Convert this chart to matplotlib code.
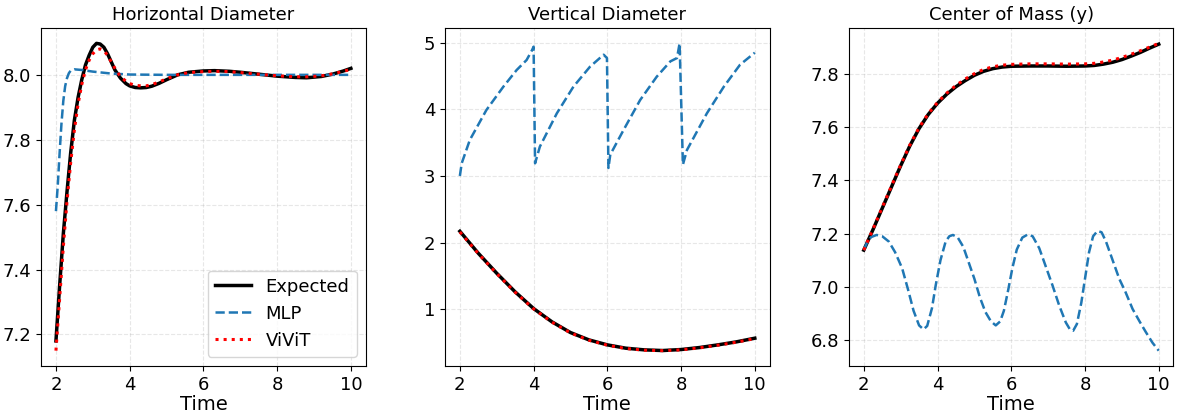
import matplotlib
matplotlib.use("Agg")
import matplotlib.pyplot as plt

# ---- Horizontal Diameter ----
hd_t_exp = [2.0, 2.1, 2.2, 2.3, 2.4, 2.5, 2.6, 2.7, 2.8, 2.9, 3.0, 3.1, 3.2, 3.3, 3.4, 3.5,
            3.6, 3.75, 3.9, 4.0, 4.15, 4.3, 4.45, 4.6, 4.8, 5.0, 5.3, 5.6, 6.0, 6.3, 6.7, 7.0,
            7.5, 8.0, 8.5, 8.8, 9.2, 9.5, 9.8, 10.0]
hd_expected = [7.18, 7.35, 7.51, 7.64, 7.76, 7.86, 7.93, 7.985, 8.03, 8.06, 8.085, 8.097, 8.095,
               8.085, 8.065, 8.04, 8.015, 7.99, 7.973, 7.966, 7.961, 7.96, 7.961, 7.965, 7.974,
               7.985, 8.0, 8.008, 8.012, 8.013, 8.011, 8.008, 8.002, 7.996, 7.992, 7.991,
               7.995, 8.002, 8.012, 8.02]
hd_vivit = [7.15, 7.31, 7.47, 7.61, 7.73, 7.83, 7.91, 7.97, 8.015, 8.045, 8.065, 8.077, 8.08,
            8.075, 8.06, 8.04, 8.02, 7.995, 7.98, 7.973, 7.968, 7.966, 7.966, 7.97, 7.978,
            7.988, 8.0, 8.007, 8.01, 8.011, 8.01, 8.007, 8.002, 7.997, 7.994, 7.994, 7.997,
            8.003, 8.011, 8.017]
hd_t_mlp = [2.0, 2.05, 2.1, 2.15, 2.2, 2.25, 2.3, 2.35, 2.4, 2.5, 2.7, 3.0, 3.5, 4.0, 5.0,
            6.0, 7.0, 8.0, 9.0, 10.0]
hd_mlp = [7.58, 7.66, 7.76, 7.85, 7.92, 7.965, 7.99, 8.005, 8.013, 8.017, 8.015, 8.01, 8.004,
          8.001, 8.0, 8.0, 8.0, 8.0, 8.0, 8.0]

# ---- Vertical Diameter ----
vd_t = [2.0, 2.5, 3.0, 3.5, 4.0, 4.5, 5.0, 5.5, 6.0, 6.5, 7.0, 7.5, 8.0, 8.5, 9.0, 9.5, 10.0]
vd_expected = [2.17, 1.84, 1.54, 1.26, 1.01, 0.81, 0.65, 0.54, 0.465, 0.415, 0.39, 0.38, 0.395,
               0.425, 0.465, 0.51, 0.565]
vd_vivit = [2.16, 1.835, 1.535, 1.255, 1.005, 0.805, 0.645, 0.535, 0.46, 0.41, 0.385, 0.378,
            0.39, 0.42, 0.46, 0.505, 0.56]
vd_t_mlp = [2.0, 2.05, 2.27, 2.72, 3.18, 3.54, 3.81, 3.95, 4.0, 4.04, 4.17, 4.63, 5.08, 5.53,
            5.9, 5.99, 6.03, 6.08, 6.44, 6.89, 7.34, 7.71, 7.89, 7.96, 8.05, 8.16, 8.7, 9.16,
            9.6, 10.0]
vd_mlp = [3.0, 3.19, 3.54, 3.99, 4.34, 4.59, 4.74, 4.88, 4.94, 3.19, 3.44, 3.94, 4.34, 4.64,
          4.82, 4.77, 3.12, 3.32, 3.69, 4.14, 4.49, 4.72, 4.77, 4.99, 3.17, 3.39, 3.94, 4.34,
          4.67, 4.85]

# ---- Center of Mass (y) ----
cm_t = [2.0, 2.25, 2.5, 2.75, 3.0, 3.25, 3.5, 3.75, 4.0, 4.25, 4.5, 4.75, 5.0, 5.25, 5.5,
        5.75, 6.0, 6.5, 7.0, 7.5, 8.0, 8.25, 8.5, 8.75, 9.0, 9.25, 9.5, 9.75, 10.0]
cm_expected = [7.138, 7.215, 7.295, 7.375, 7.455, 7.53, 7.595, 7.648, 7.69, 7.724, 7.752,
               7.775, 7.795, 7.81, 7.82, 7.826, 7.829, 7.83, 7.83, 7.829, 7.83, 7.832, 7.837,
               7.844, 7.854, 7.867, 7.881, 7.897, 7.912]
cm_vivit = [7.138, 7.217, 7.298, 7.378, 7.458, 7.533, 7.598, 7.651, 7.693, 7.728, 7.757,
            7.781, 7.801, 7.817, 7.827, 7.833, 7.836, 7.838, 7.838, 7.837, 7.838, 7.84, 7.845,
            7.852, 7.862, 7.874, 7.887, 7.901, 7.915]
cm_t_mlp = [2.0, 2.1, 2.2, 2.35, 2.5, 2.68, 2.85, 3.04, 3.2, 3.35, 3.5, 3.62, 3.72, 3.85, 3.95,
            4.08, 4.22, 4.32, 4.42, 4.55, 4.7, 4.85, 5.0, 5.15, 5.3, 5.45, 5.58, 5.7, 5.8,
            5.92, 6.03, 6.15, 6.3, 6.45, 6.58, 6.76, 6.94, 7.12, 7.3, 7.48, 7.6, 7.68, 7.78,
            7.9, 8.0, 8.11, 8.22, 8.34, 8.45, 8.57, 8.75, 8.93, 9.1, 9.29, 9.48, 9.65, 9.83,
            10.0]
cm_mlp = [7.138, 7.17, 7.187, 7.195, 7.19, 7.17, 7.13, 7.07, 6.99, 6.91, 6.855, 6.84, 6.853,
          6.92, 7.005, 7.10, 7.17, 7.19, 7.195, 7.185, 7.15, 7.09, 7.03, 6.96, 6.905, 6.87,
          6.855, 6.87, 6.91, 6.99, 7.07, 7.14, 7.185, 7.197, 7.19, 7.145, 7.075, 7.005, 6.93,
          6.866, 6.838, 6.835, 6.86, 6.94, 7.03, 7.13, 7.19, 7.21, 7.205, 7.17, 7.1, 7.03,
          6.98, 6.917, 6.87, 6.83, 6.79, 6.76]

panels = [
    ("Horizontal Diameter", hd_t_exp, hd_expected, hd_t_mlp, hd_mlp, hd_t_exp, hd_vivit),
    ("Vertical Diameter", vd_t, vd_expected, vd_t_mlp, vd_mlp, vd_t, vd_vivit),
    ("Center of Mass (y)", cm_t, cm_expected, cm_t_mlp, cm_mlp, cm_t, cm_vivit),
]

plt.rcParams["font.size"] = 13
fig, axes = plt.subplots(1, 3, figsize=(11.77, 4.15), dpi=100)
fig.subplots_adjust(left=0.035, right=0.997, bottom=0.118, top=0.9325, wspace=0.245)

for ax, (title, te, ye, tm, ym, tv, yv) in zip(axes, panels):
    ax.plot(te, ye, color="black", lw=2.5, label="Expected")
    ax.plot(tm, ym, color="#1f77b4", ls="--", lw=1.8, label="MLP")
    ax.plot(tv, yv, color="red", ls=":", lw=2.2, label="ViViT")
    ax.set_title(title, fontsize=13)
    ax.set_xlabel("Time", fontsize=14, labelpad=1)
    ax.set_xticks([2, 4, 6, 8, 10])
    ax.grid(True, ls="--", alpha=0.3)

axes[0].legend(loc="lower right", fontsize=13)

fig.savefig("out.png", dpi=100)
